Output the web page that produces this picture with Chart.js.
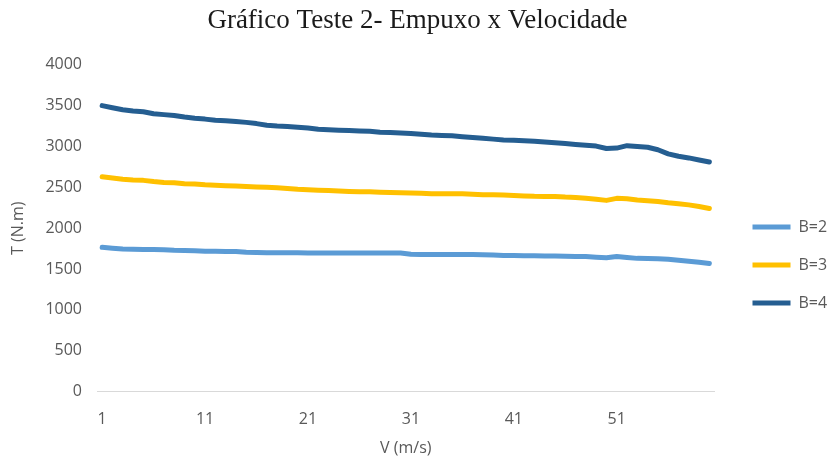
<!DOCTYPE html>
<html>
<head>
<meta charset="utf-8">
<script src="https://cdn.jsdelivr.net/npm/chart.js@4.4.0/dist/chart.umd.min.js"></script>
<style>
    body { margin: 0; background: #fff; }
    #wrap { width: 829px; height: 459px; }
</style>
</head>
<body>
<div id="wrap"><canvas id="myChart" width="829" height="459"></canvas></div>
<script>
// velocidade 1..60 (m/s)
const velocidade = [];
for (let i = 1; i <= 60; i++) velocidade.push(String(i));

const seriesNames = ['B=2', 'B=3', 'B=4'];

const empuxoB2 = [
    1765, 1755, 1745, 1742, 1740, 1738, 1735, 1728, 1725, 1722,
    1718, 1716, 1715, 1714, 1705, 1702, 1700, 1700, 1699, 1698,
    1697, 1697, 1697, 1697, 1697, 1697, 1697, 1697, 1697, 1695,
    1680, 1678, 1678, 1677, 1677, 1677, 1676, 1675, 1670, 1665,
    1664, 1663, 1662, 1660, 1658, 1656, 1654, 1652, 1645, 1638,
    1652, 1640, 1630, 1628, 1625, 1618, 1608, 1595, 1582, 1567
];

const empuxoB3 = [
    2630, 2615, 2600, 2590, 2585, 2570, 2560, 2555, 2545, 2540,
    2530, 2525, 2520, 2515, 2510, 2505, 2500, 2495, 2485, 2475,
    2470, 2465, 2460, 2455, 2450, 2447, 2445, 2440, 2435, 2432,
    2430, 2428, 2420, 2420, 2422, 2420, 2415, 2410, 2408, 2405,
    2400, 2395, 2390, 2388, 2388, 2380, 2375, 2365, 2355, 2340,
    2365, 2360, 2345, 2335, 2325, 2310, 2300, 2285, 2265, 2240
];

const empuxoB4 = [
    3500, 3475, 3450, 3435, 3425, 3400, 3390, 3380, 3360, 3345,
    3335, 3320, 3315, 3305, 3295, 3280, 3260, 3250, 3245, 3235,
    3225, 3210, 3205, 3200, 3195, 3190, 3185, 3175, 3170, 3165,
    3160, 3150, 3140, 3135, 3130, 3120, 3110, 3100, 3090, 3080,
    3075, 3070, 3065, 3055, 3045, 3035, 3025, 3015, 3005, 2975,
    2980, 3010, 3000, 2990, 2960, 2910, 2880, 2860, 2835, 2810
];

const xTickLabels = ['1', '11', '21', '31', '41', '51'];
const yTicks = [0, 500, 1000, 1500, 2000, 2500, 3000, 3500, 4000];

const colors = ['#5B9BD5', '#FFC000', '#255E91'];
const allData = [empuxoB2, empuxoB3, empuxoB4];

const textGray = '#595959';
const labelFont = { family: 'Open Sans', size: 16 };

const datasets = seriesNames.map(function (name, i) {
    return {
        label: name,
        data: allData[i],
        borderColor: colors[i],
        backgroundColor: colors[i],
        borderWidth: 5,
        borderCapStyle: 'round',
        borderJoinStyle: 'round',
        pointRadius: 0,
        pointHoverRadius: 0,
        tension: 0,
        fill: false
    };
});

let ctx = document.getElementById('myChart').getContext('2d');

let chart = new Chart(ctx, {
    type: 'line',
    data: {
        labels: velocidade,
        datasets: datasets
    },
    options: {
        responsive: false,
        animation: false,
        devicePixelRatio: 1,
        layout: {
            padding: { left: 6, right: 0, top: 0, bottom: 0 }
        },
        plugins: {
            title: {
                display: true,
                text: 'Gráfico Teste 2- Empuxo x Velocidade',
                color: '#1a1a1a',
                font: { family: 'Liberation Serif', size: 27, weight: 'normal' },
                padding: { top: 5, bottom: 27.4 }
            },
            legend: {
                position: 'right',
                maxWidth: 98.5,
                // empty title only pushes the items down
                title: { display: true, text: ' ', padding: { top: 0, bottom: 56.6 } },
                labels: {
                    color: textGray,
                    font: labelFont,
                    usePointStyle: true,
                    pointStyle: 'line',
                    pointStyleWidth: 38,
                    padding: 22
                }
            },
            tooltip: { enabled: false }
        },
        scales: {
            x: {
                offset: true,
                grid: { display: false, drawTicks: false },
                border: { display: true, color: '#d9d9d9', width: 1 },
                ticks: {
                    color: textGray,
                    font: labelFont,
                    maxRotation: 0,
                    autoSkip: false,
                    padding: 18,
                    callback: function (val) {
                        const lab = this.getLabelForValue(val);
                        return xTickLabels.indexOf(lab) >= 0 ? lab : null;
                    }
                },
                title: {
                    display: true,
                    text: 'V (m/s)',
                    color: textGray,
                    font: labelFont,
                    padding: { top: 0, bottom: 0.6 }
                },
                afterFit: function (scale) { scale.height = 67.5; }
            },
            y: {
                min: yTicks[0],
                max: yTicks[yTicks.length - 1],
                grid: { display: false, drawTicks: false },
                border: { display: false },
                ticks: {
                    stepSize: 500,
                    color: textGray,
                    font: labelFont,
                    padding: 15,
                    callback: function (val) { return String(val); }
                },
                title: {
                    display: true,
                    text: 'T (N.m)',
                    color: textGray,
                    font: labelFont,
                    padding: { top: 2.4, bottom: 0 }
                },
                afterFit: function (scale) { scale.width = 91; }
            },
            // spacer between plot and legend
            gap: {
                type: 'linear',
                position: 'right',
                display: true,
                grid: { display: false, drawTicks: false },
                border: { display: false },
                ticks: { display: false },
                afterFit: function (scale) { scale.width = 16; }
            }
        }
    }
});
</script>
</body>
</html>
